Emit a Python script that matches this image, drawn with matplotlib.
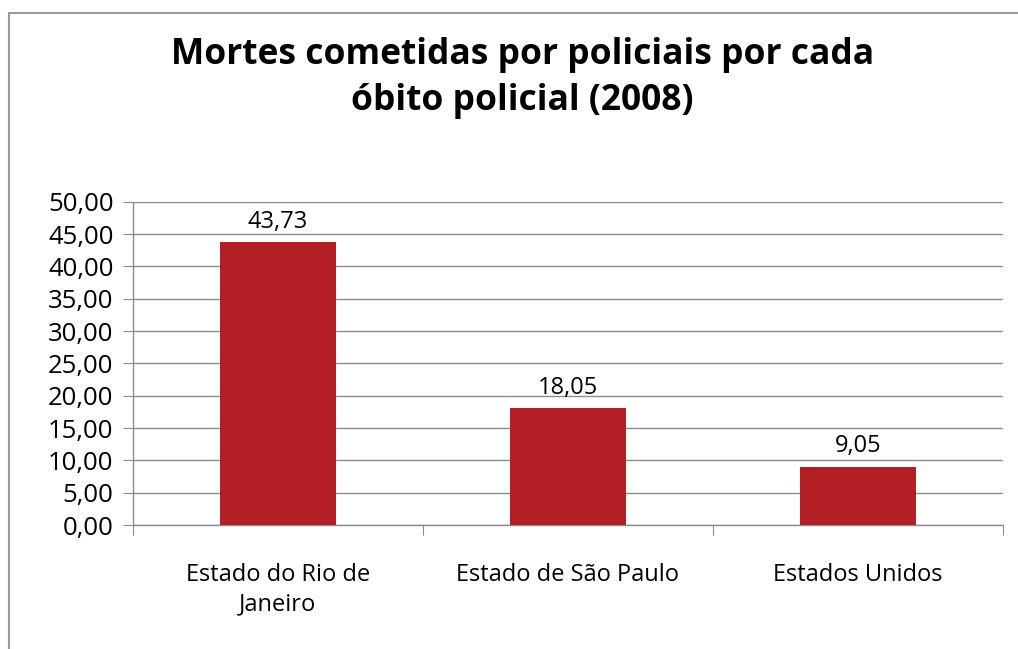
import matplotlib
matplotlib.use('Agg')
import matplotlib.pyplot as plt
from matplotlib.patches import Rectangle

categorias = ['Estado do Rio de\nJaneiro', 'Estado de São Paulo', 'Estados Unidos']
valores = [43.73, 18.05, 9.05]
rotulos = ['43,73', '18,05', '9,05']
yticks = [0, 5, 10, 15, 20, 25, 30, 35, 40, 45, 50]

plt.rcParams['font.family'] = ['Open Sans', 'DejaVu Sans']

fig = plt.figure(figsize=(10.18, 6.49), dpi=100)
ax = fig.add_axes([0.1306, 0.191, 0.8544, 0.498])

x = list(range(len(categorias)))
ax.bar(x, valores, width=0.4, color='#B31F24', zorder=3)
for xi, v, r in zip(x, valores, rotulos):
	ax.annotate(r, xy=(xi, v), xytext=(0, 6), textcoords='offset points',
		ha='center', va='bottom', fontsize=17)

ax.set_xlim(-0.5, 2.5)
ax.set_ylim(0, 50)
ax.set_yticks(yticks)
ax.set_yticklabels([('%.2f' % t).replace('.', ',') for t in yticks], fontsize=18.5)
ax.yaxis.grid(True, color='#8c8c8c', linewidth=1, zorder=0)
ax.set_axisbelow(True)

# category ticks sit on the boundaries, labels in the middle
ax.set_xticks([-0.5, 0.5, 1.5, 2.5])
ax.set_xticklabels([])
ax.set_xticks(x, minor=True)
ax.set_xticklabels(categorias, minor=True, fontsize=17, linespacing=1.35)
ax.tick_params(axis='x', which='minor', length=0, pad=27)
ax.tick_params(axis='x', which='major', length=7, color='#8c8c8c', direction='out')
ax.tick_params(axis='y', length=7, color='#8c8c8c', pad=7)

for s in ['top', 'right']:
	ax.spines[s].set_visible(False)
for s in ['left', 'bottom']:
	ax.spines[s].set_color('#8c8c8c')
	ax.spines[s].set_linewidth(1)

fig.text(0.513, 0.915, 'Mortes cometidas por policiais por cada', ha='center', va='center',
	fontsize=25.5, fontweight='bold')
fig.text(0.513, 0.845, 'óbito policial (2008)', ha='center', va='center',
	fontsize=25.5, fontweight='bold')

# outer chart border
fig.patches.append(Rectangle((9/1018, -0.05), 1.2, 1 - 13/649 + 0.05, transform=fig.transFigure,
	fill=False, edgecolor='#9a9a9a', linewidth=1.5))

fig.savefig('out.png', dpi=100)
